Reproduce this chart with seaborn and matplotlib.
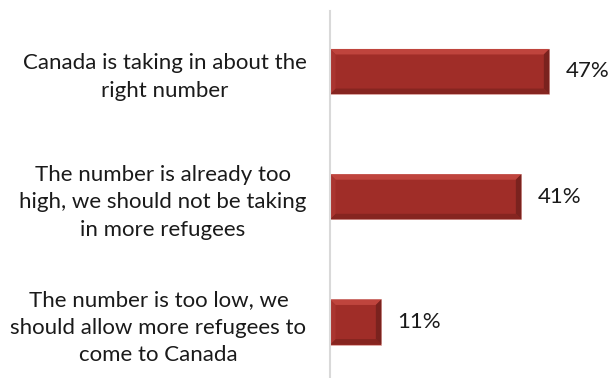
import matplotlib
matplotlib.use("Agg")
import matplotlib.pyplot as plt
from matplotlib.patches import Polygon
import seaborn as sns
import pandas as pd

categories = [
    "Canada is taking in about the\nright number",
    "The number is already too\nhigh, we should not be taking\nin more refugees",
    "The number is too low, we\nshould allow more refugees to\ncome to Canada",
]
values = [47, 41, 11]
value_labels = ["47%", "41%", "11%"]

df = pd.DataFrame({"category": categories, "share": values})

sns.set_theme(style="white")
plt.rcParams["font.family"] = ["Lato", "DejaVu Sans"]

fig = plt.figure(figsize=(6.13, 3.78), dpi=100)
ax = fig.add_axes([330 / 613, 1 - 377 / 378, 280 / 613, 366 / 378])

FACE = "#A02D28"
sns.barplot(data=df, x="share", y="category", orient="h", width=0.36,
            color=FACE, saturation=1, edgecolor="#E3B0AB", linewidth=0.6, ax=ax)

ax.set_xlim(0, 60)
ax.set_ylim(2.439, -0.483)

# bevelled edges built from each bar's own geometry
bev_x = 5.5 / (280 / 60)
bev_y = 5.5 / (366 / (2.439 + 0.483))
for p in ax.patches:
    x0, y0 = p.get_x(), p.get_y()
    x1, y1 = x0 + p.get_width(), y0 + p.get_height()
    dx = min(bev_x, p.get_width() / 3)
    faces = [
        ([(x0, y0), (x1, y0), (x1 - dx, y0 + bev_y), (x0 + dx, y0 + bev_y)], "#BF443D"),
        ([(x0, y1), (x1, y1), (x1 - dx, y1 - bev_y), (x0 + dx, y1 - bev_y)], "#862520"),
        ([(x0, y0), (x0 + dx, y0 + bev_y), (x0 + dx, y1 - bev_y), (x0, y1)], "#AA3530"),
        ([(x1, y0), (x1 - dx, y0 + bev_y), (x1 - dx, y1 - bev_y), (x1, y1)], "#7A221E"),
    ]
    for pts, col in faces:
        ax.add_patch(Polygon(pts, closed=True, facecolor=col, edgecolor="none",
                             zorder=p.get_zorder() + 0.1))

for i, (v, lab) in enumerate(zip(values, value_labels)):
    ax.annotate(lab, xy=(v, i), xytext=(11.5, 0), textcoords="offset points",
                ha="left", va="center", fontsize=16, color="#1A1A1A")

ax.set_xlabel("")
ax.set_ylabel("")
ax.set_xticks([])
ax.tick_params(axis="y", length=0, pad=17)
for t in ax.get_yticklabels():
    t.set_fontsize(16)
    t.set_color("#1A1A1A")
    t.set_multialignment("center")
    t.set_linespacing(1.45)

for side in ["top", "right", "bottom"]:
    ax.spines[side].set_visible(False)
ax.spines["left"].set_color("#D9D9D9")
ax.spines["left"].set_linewidth(1.5)

fig.savefig("out.png", dpi=100, facecolor="white")
